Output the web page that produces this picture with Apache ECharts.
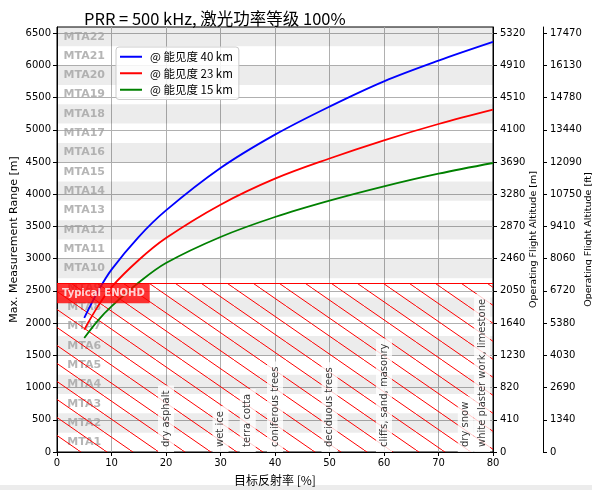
<!DOCTYPE html>
<html><head><meta charset="utf-8">
<script src="https://cdn.jsdelivr.net/npm/echarts@6/dist/echarts.min.js"></script>
<style>html,body{margin:0;padding:0;background:#fff}#c{width:592px;height:490px}</style>
</head><body><div id="c"></div>
<script>
// ---- data ----
const reflectance = [5, 7.5, 10, 15, 20, 30, 40, 50, 60, 70, 80];
const range40km = [2080, 2490, 2830, 3340, 3750, 4407, 4925, 5360, 5752, 6073, 6363];
const range23km = [1900, 2260, 2560, 2980, 3321, 3838, 4242, 4555, 4837, 5090, 5313];
const range15km = [1770, 2040, 2260, 2630, 2933, 3337, 3647, 3900, 4122, 4319, 4485];
const seriesNames = ['@ 能见度 40 km', '@ 能见度 23 km', '@ 能见度 15 km'];
const xTicks = [0, 10, 20, 30, 40, 50, 60, 70, 80];
const rangeTicks = [0, 500, 1000, 1500, 2000, 2500, 3000, 3500, 4000, 4500, 5000, 5500, 6000, 6500];
const altitudeM = ['0','410','820','1230','1640','2050','2460','2870','3280','3690','4100','4510','4910','5320'];
const altitudeFt = ['0','1340','2690','4030','5380','6720','8060','9410','10750','12090','13440','14780','16130','17470'];
const mtaLabels = ['MTA1','MTA2','MTA3','MTA4','MTA5','MTA6','MTA7','MTA8','MTA9','MTA10','MTA11',
                   'MTA12','MTA13','MTA14','MTA15','MTA16','MTA17','MTA18','MTA19','MTA20','MTA21','MTA22'];
const mtaZoneWidth = 299.79;   // m per MTA zone at PRR 500 kHz
const mtaLabelX = 5;
const enohd = 2620;
const enohdText = 'Typical ENOHD';
const materials = ['dry asphalt','wet ice','terra cotta','coniferous trees','deciduous trees',
                   'cliffs, sand, masonry','dry snow','white plaster work, limestone'];
const materialRefl = [20, 30, 35, 40, 50, 60, 75, 78];

// ---- derived ----
const xMin = xTicks[0], xMax = xTicks[xTicks.length - 1];
const yMax = mtaZoneWidth * mtaLabels.length;
const zip = (xs, ys) => xs.map((x, i) => [x, ys[i]]);
const bands = [];
mtaLabels.forEach((l, i) => { if (i % 2 === 1) bands.push([i * mtaZoneWidth, (i + 1) * mtaZoneWidth]); });
const mtaPoints = mtaLabels.map((l, i) => [mtaLabelX, (i + 0.5) * mtaZoneWidth]);

const latin = '"DejaVu Sans", sans-serif';
const cjk = '"Noto Sans CJK SC", "DejaVu Sans", sans-serif';

// hatch pattern ("\\" hatching)
const hw = 26, hh = 18;
const hp = document.createElement('canvas'); hp.width = hw; hp.height = hh;
const g = hp.getContext('2d'); g.strokeStyle = '#ff0000'; g.lineWidth = 1;
g.beginPath();
for (const k of [-1, 0, 1]) { g.moveTo(k * hw, 0); g.lineTo(k * hw + hw, hh); }
g.stroke();

const tickFmt = (labels) => (v) => { const i = rangeTicks.indexOf(Math.round(v)); return i >= 0 ? labels[i] : ''; };

const yBase = (extra) => Object.assign({
  type: 'value', min: 0, max: yMax, interval: 500,
  axisLine: { show: true, lineStyle: { color: '#000', width: 1 } },
  axisTick: { show: true, inside: false, length: 4, lineStyle: { color: '#000' }, customValues: rangeTicks },
  splitLine: { show: false },
  nameLocation: 'middle', nameRotate: 90, nameMoveOverlap: false,
  nameTextStyle: { fontFamily: latin, fontSize: 11, color: '#000' }
}, extra);

const lineIcon = 'path://M0,0L22,0L22,2L0,2Z';

const chart = echarts.init(document.getElementById('c'), null, { renderer: 'canvas' });
chart.setOption({
  animation: false,
  backgroundColor: '#fff',
  title: {
    text: 'PRR = 500 kHz, 激光功率等级 100%', left: 79, top: 5,
    textStyle: { fontFamily: cjk, fontSize: 16.5, fontWeight: 'normal', color: '#000' }
  },
  graphic: [{ type: 'rect', shape: { x: 0, y: 485, width: 592, height: 5 }, style: { fill: '#ececec' }, silent: true }],
  grid: { left: 57, right: 99, top: 27, bottom: 38, show: true, borderColor: '#000', borderWidth: 1,
          backgroundColor: 'transparent', outerBoundsMode: 'none', containLabel: false },
  legend: {
    data: seriesNames.map((n) => ({ name: n, icon: lineIcon })), left: 116, top: 47, orient: 'vertical',
    backgroundColor: 'rgba(255,255,255,0.85)', borderColor: '#cccccc', borderWidth: 1, borderRadius: 3,
    padding: [4, 6, 4, 4], itemWidth: 22, itemHeight: 10, itemGap: 5,
    textStyle: { fontFamily: cjk, fontSize: 11.5, color: '#000', padding: [0, 0, 0, 3] }
  },
  xAxis: {
    type: 'value', min: xMin, max: xMax, interval: 10,
    name: '目标反射率 [%]', nameLocation: 'middle', nameGap: 22, nameMoveOverlap: false,
    nameTextStyle: { fontFamily: cjk, fontSize: 12, color: '#000' },
    axisLine: { show: true, onZero: false, lineStyle: { color: '#000' } },
    axisTick: { show: true, length: 4, lineStyle: { color: '#000' } },
    axisLabel: { fontFamily: latin, fontSize: 10, color: '#000', margin: 6,
                 formatter: (v) => xTicks.includes(v) ? String(v) : '' },
    splitLine: { show: true, lineStyle: { color: '#b0b0b0', width: 1 } }
  },
  yAxis: [
    yBase({ position: 'left', name: 'Max. Measurement Range [m]', nameGap: 37,
      axisLabel: { fontFamily: latin, fontSize: 10, color: '#000', margin: 6, customValues: rangeTicks, formatter: (v) => String(Math.round(v)) },
      splitLine: { show: true, lineStyle: { color: '#b0b0b0', width: 1 } } }),
    yBase({ position: 'right', name: 'Operating Flight Altitude [m]', nameGap: 36,
      nameTextStyle: { fontFamily: latin, fontSize: 9.5, color: '#000' },
      axisLabel: { fontFamily: latin, fontSize: 10, color: '#000', margin: 7, customValues: rangeTicks, formatter: tickFmt(altitudeM) } }),
    yBase({ position: 'right', offset: 50, name: 'Operating Flight Altitude [ft]', nameGap: 41,
      nameTextStyle: { fontFamily: latin, fontSize: 9.5, color: '#000' },
      axisLabel: { fontFamily: latin, fontSize: 10, color: '#000', margin: 7, customValues: rangeTicks, formatter: tickFmt(altitudeFt) } })
  ],
  series: [
    { type: 'custom', name: 'bands', z: 1, silent: true, clip: true, data: bands,
      renderItem: (params, api) => {
        const p0 = api.coord([xMin, api.value(1)]), p1 = api.coord([xMax, api.value(0)]);
        return { type: 'rect', shape: { x: p0[0], y: p0[1], width: p1[0] - p0[0], height: p1[1] - p0[1] },
                 style: { fill: 'rgba(0,0,0,0.075)' } };
      } },
    { type: 'scatter', name: 'mta', z: 2, silent: true, symbolSize: 0, data: mtaPoints,
      label: { show: true, position: 'inside', align: 'center', verticalAlign: 'middle',
               formatter: (p) => mtaLabels[p.dataIndex], fontFamily: latin, fontSize: 11, fontWeight: 'bold', color: '#a3a3a3' } },
    { type: 'custom', name: 'hatch', z: 3, silent: true, clip: true, data: [[xMin, enohd]],
      renderItem: (params, api) => {
        const p0 = api.coord([xMin, api.value(1)]), p1 = api.coord([xMax, 0]);
        return { type: 'group', children: [
          { type: 'rect', shape: { x: p0[0], y: p0[1], width: p1[0] - p0[0], height: p1[1] - p0[1] },
            style: { fill: { image: hp, repeat: 'repeat' } } },
          { type: 'line', shape: { x1: p0[0], y1: Math.round(p0[1]) + 0.5, x2: p1[0], y2: Math.round(p0[1]) + 0.5 },
            style: { stroke: '#ff0000', lineWidth: 1 } }
        ] };
      } },
    { type: 'line', name: seriesNames[0], z: 4, symbol: 'none', smooth: 0.35,
      data: zip(reflectance, range40km), itemStyle: { color: '#0000ff' }, lineStyle: { color: '#0000ff', width: 1.8 } },
    { type: 'line', name: seriesNames[1], z: 4, symbol: 'none', smooth: 0.35,
      data: zip(reflectance, range23km), itemStyle: { color: '#ff0000' }, lineStyle: { color: '#ff0000', width: 1.8 } },
    { type: 'line', name: seriesNames[2], z: 4, symbol: 'none', smooth: 0.35,
      data: zip(reflectance, range15km), itemStyle: { color: '#008000' }, lineStyle: { color: '#008000', width: 1.8 } },
    { type: 'scatter', name: 'materials', z: 5, silent: true, symbolSize: 0,
      data: materialRefl.map((r) => [r, 0]),
      label: { show: true, position: 'inside', rotate: 90, align: 'left', verticalAlign: 'middle',
               formatter: (p) => materials[p.dataIndex], fontFamily: latin, fontSize: 10, color: '#000',
               backgroundColor: '#ffffff', padding: [3, 5] } },
    { type: 'scatter', name: 'enohd', z: 6, silent: true, symbolSize: 0, data: [[xMin, enohd]],
      label: { show: true, position: 'inside', align: 'left', verticalAlign: 'top', formatter: enohdText,
               fontFamily: latin, fontSize: 10, fontWeight: 'bold', color: '#fff', backgroundColor: '#ff0000', padding: [5, 5, 5, 5] } }
  ]
});
</script></body></html>
